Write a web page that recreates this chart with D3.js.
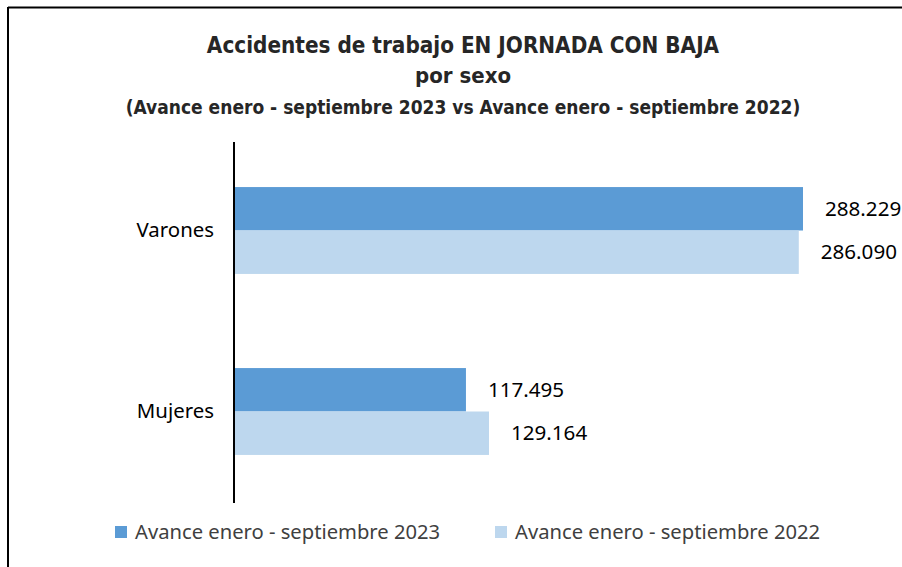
<!DOCTYPE html>
<html>
<head>
<meta charset="utf-8"/>
<script src="https://cdn.jsdelivr.net/npm/d3@7"></script>
<style>
html, body {
  margin: 0;
  padding: 0;
  background: #fff;
}
svg text {
  font-family: "Noto Sans", "Open Sans", sans-serif;
}
.title {
  font-family: "Liberation Sans Narrow", "DejaVu Sans Condensed", sans-serif;
  font-weight: bold;
  fill: #262626;
}
</style>
</head>
<body>

<svg id="chart" width="902" height="567"></svg>

<script type='text/javascript'>

var categories = ["Varones", "Mujeres"];
var seriesNames = ["Avance enero - septiembre 2023", "Avance enero - septiembre 2022"];
var values2023 = [288229, 117495];
var values2022 = [286090, 129164];
var valueLabels2023 = ["288.229", "117.495"];
var valueLabels2022 = ["286.090", "129.164"];
var titleLines = [
  "Accidentes de trabajo EN JORNADA CON BAJA",
  "por sexo",
  "(Avance enero - septiembre 2023 vs Avance enero - septiembre 2022)"
];

var colors = ["#5B9BD5", "#BDD7EE"];

var svg = d3.select("#chart");

// frame (only top and left visible in the crop)
svg.append("line").attr("x1", 8).attr("x2", 902).attr("y1", 7.5).attr("y2", 7.5)
  .attr("stroke", "#000").attr("stroke-width", 2);
svg.append("line").attr("x1", 8).attr("x2", 8).attr("y1", 7).attr("y2", 567)
  .attr("stroke", "#000").attr("stroke-width", 2);

//---------------------------------------
// title
var titleY = [53, 83, 114];
var titleSize = [22.3, 22, 19];
svg.selectAll(".title")
  .data(titleLines)
  .enter().append("text")
  .attr("class", "title")
  .attr("x", 463)
  .attr("y", function(d, i) { return titleY[i]; })
  .attr("text-anchor", "middle")
  .attr("font-size", function(d, i) { return titleSize[i]; })
  .text(function(d) { return d; });

//---------------------------------------
var x = d3.scaleLinear()
  .domain([0, 300000])
  .range([234, 234 + 300000 * 569 / 288229]);

var y = d3.scaleBand()
  .domain(categories)
  .range([140, 502])
  .paddingInner(0.52)
  .paddingOuter(0.26);

var sub = d3.scaleBand()
  .domain([0, 1])
  .range([0, y.bandwidth()]);

var rows = categories.map(function(c, i) {
  return {cat: c, vals: [values2023[i], values2022[i]], labels: [valueLabels2023[i], valueLabels2022[i]]};
});

var g = svg.selectAll(".cat")
  .data(rows)
  .enter().append("g")
  .attr("class", "cat")
  .attr("transform", function(d) { return "translate(0," + y(d.cat) + ")"; });

g.selectAll("rect")
  .data(function(d) { return d.vals; })
  .enter().append("rect")
  .attr("x", x(0))
  .attr("y", function(d, i) { return sub(i); })
  .attr("width", function(d) { return x(d) - x(0); })
  .attr("height", sub.bandwidth())
  .attr("fill", function(d, i) { return colors[i]; });

g.selectAll(".val")
  .data(function(d) { return d.vals.map(function(v, i) { return {v: v, label: d.labels[i]}; }); })
  .enter().append("text")
  .attr("class", "val")
  .attr("x", function(d) { return x(d.v) + 22; })
  .attr("y", function(d, i) { return sub(i) + sub.bandwidth() / 2; })
  .attr("dy", "0.35em")
  .attr("font-size", 20.6)
  .attr("fill", "#000")
  .text(function(d) { return d.label; });

//---------------------------------------
// category axis
var axis = svg.append("g")
  .attr("transform", "translate(" + x(0) + ",0)")
  .call(d3.axisLeft(y).tickSize(0).tickPadding(20));
axis.select(".domain").attr("stroke", "#000").attr("stroke-width", 2)
  .attr("d", "M0,142V503");
axis.selectAll(".tick text")
  .attr("font-family", "Noto Sans, sans-serif")
  .attr("font-size", 20.4)
  .attr("fill", "#000");

//---------------------------------------
// legend
var legendX = [115, 495];
var leg = svg.selectAll(".legend")
  .data(seriesNames)
  .enter().append("g")
  .attr("class", "legend")
  .attr("transform", function(d, i) { return "translate(" + legendX[i] + ",526)"; });
leg.append("rect")
  .attr("width", 12).attr("height", 12)
  .attr("fill", function(d, i) { return colors[i]; });
leg.append("text")
  .attr("x", 20)
  .attr("y", 6)
  .attr("dy", "0.35em")
  .attr("font-size", 20.2)
  .attr("fill", "#404040")
  .text(function(d) { return d; });

</script>
</body>
</html>
